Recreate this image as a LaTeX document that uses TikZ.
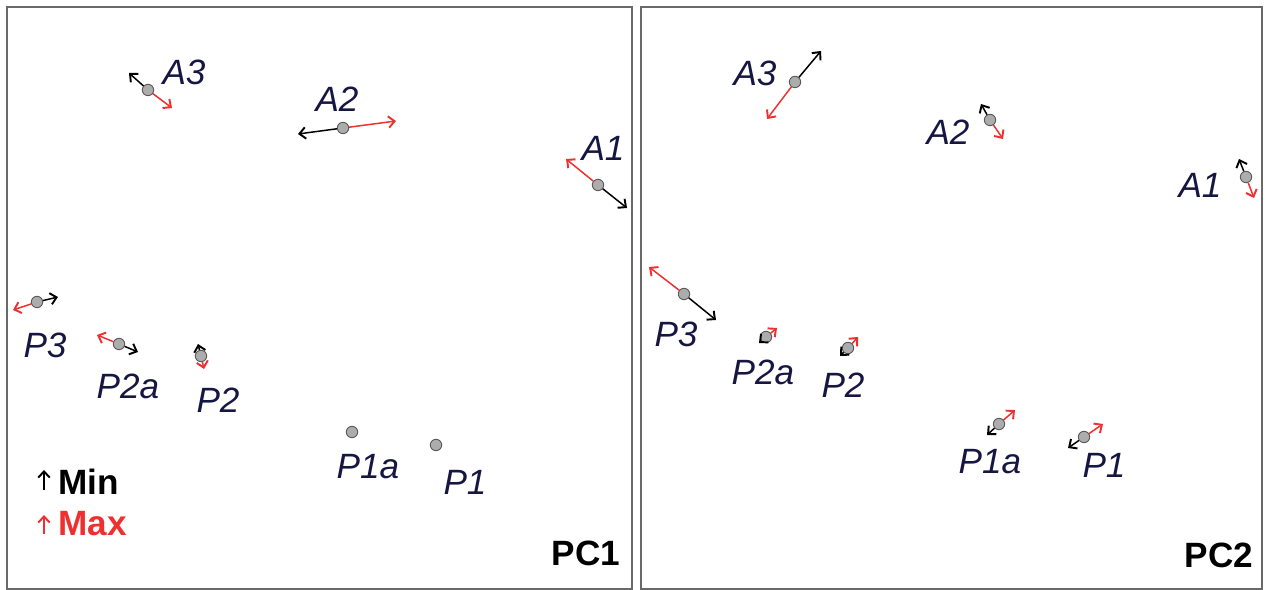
\documentclass[tikz,border=0pt]{standalone}
\usepackage{fontspec}
\setmainfont{Liberation Sans}
\usetikzlibrary{arrows.meta,positioning}

\definecolor{labelblue}{RGB}{22,22,66}
\definecolor{maxred}{RGB}{238,48,48}
\definecolor{framegray}{RGB}{105,105,105}
\definecolor{dotgray}{RGB}{172,172,172}

\tikzset{
  panel/.style={draw=framegray, line width=1.3pt},
  pt/.style={circle, draw=black!65, fill=dotgray, line width=0.5pt, inner sep=0pt, minimum size=6.5pt},
  minarr/.style={->, black, line width=0.85pt},
  maxarr/.style={->, maxred, line width=0.85pt},
  lbl/.style={text=labelblue, font=\fontsize{20}{24}\selectfont\itshape, inner sep=0pt},
  pclbl/.style={font=\fontsize{20}{24}\selectfont\bfseries, inner sep=0pt},
}

\begin{document}
\begin{tikzpicture}[x=0.02cm, y=-0.02cm, >={Straight Barb[length=3.5pt,width=6.5pt,line width=1.1pt]}]
    \useasboundingbox (0,0) rectangle (1265,590);

    % Panels
    \draw[panel] (7,7) rectangle (632,589);
    \draw[panel] (641,7) rectangle (1262,589);

    % PC1 points
    \node (la3) [pt] at (148,90) {};
    \node (la2) [pt] at (343,128) {};
    \node (la1) [pt] at (598,185) {};
    \node (lp3) [pt] at (37,302) {};
    \node (lp2a) [pt] at (119,344) {};
    \node (lp2) [pt] at (201,356) {};
    \node (lp1a) [pt] at (352,432) {};
    \node (lp1) [pt] at (436,445) {};

    % PC1 arrow ends
    \coordinate (la3min) at (129,73);
    \coordinate (la3max) at (172,108);
    \coordinate (la2min) at (298,134);
    \coordinate (la2max) at (396,121);
    \coordinate (la1min) at (627,208);
    \coordinate (la1max) at (566,159);
    \coordinate (lp3min) at (58,297);
    \coordinate (lp3max) at (13,310);
    \coordinate (lp2amin) at (138,352);
    \coordinate (lp2amax) at (97,335);
    \coordinate (lp2min) at (198,344);
    \coordinate (lp2max) at (204,369);

    % PC1 labels
    \node [lbl] at (184,72) {A3};
    \node [lbl] at (337,99) {A2};
    \node [lbl] at (603,148) {A1};
    \node [lbl] at (45,345) {P3};
    \node [lbl] at (128,386) {P2a};
    \node [lbl] at (218,400) {P2};
    \node [lbl] at (368,467) {P1a};
    \node [lbl] at (465,482) {P1};
    \node [pclbl] at (586,553) {PC1};

    % Legend
    \coordinate (minlo) at (44,490);
    \coordinate (minhi) at (44,470);
    \coordinate (maxlo) at (44,534);
    \coordinate (maxhi) at (44,515);
    \draw[minarr, line width=0.6pt] (minlo) -- (minhi);
    \draw[maxarr, line width=0.6pt] (maxlo) -- (maxhi);
    \node [pclbl, anchor=west] at (58,482) {Min};
    \node [pclbl, anchor=west, text=maxred] at (58,524) {Max};

    % PC2 points
    \node (ra3) [pt] at (795,82) {};
    \node (ra2) [pt] at (990,120) {};
    \node (ra1) [pt] at (1246,177) {};
    \node (rp3) [pt] at (684,294) {};
    \node (rp2a) [pt] at (766,337) {};
    \node (rp2) [pt] at (848,348) {};
    \node (rp1a) [pt] at (999,424) {};
    \node (rp1) [pt] at (1084,437) {};

    % PC2 arrow ends
    \coordinate (ra3min) at (821,51);
    \coordinate (ra3max) at (767,119);
    \coordinate (ra2min) at (981,104);
    \coordinate (ra2max) at (1003,139);
    \coordinate (ra1min) at (1239,159);
    \coordinate (ra1max) at (1254,198);
    \coordinate (rp3min) at (716,320);
    \coordinate (rp3max) at (649,267);
    \coordinate (rp2amin) at (759,343);
    \coordinate (rp2amax) at (777,328);
    \coordinate (rp2min) at (840,356);
    \coordinate (rp2max) at (858,337);
    \coordinate (rp1amin) at (987,435);
    \coordinate (rp1amax) at (1015,410);
    \coordinate (rp1min) at (1068,448);
    \coordinate (rp1max) at (1103,424);

    % PC2 labels
    \node [lbl] at (755,73) {A3};
    \node [lbl] at (948,132) {A2};
    \node [lbl] at (1200,185) {A1};
    \node [lbl] at (676,334) {P3};
    \node [lbl] at (763,372) {P2a};
    \node [lbl] at (843,385) {P2};
    \node [lbl] at (990,462) {P1a};
    \node [lbl] at (1104,465) {P1};
    \node [pclbl] at (1219,555) {PC2};

    % Arrows
    \draw[minarr] (la3) -- (la3min);
    \draw[maxarr] (la3) -- (la3max);
    \draw[minarr] (la2) -- (la2min);
    \draw[maxarr] (la2) -- (la2max);
    \draw[minarr] (la1) -- (la1min);
    \draw[maxarr] (la1) -- (la1max);
    \draw[minarr] (lp3) -- (lp3min);
    \draw[maxarr] (lp3) -- (lp3max);
    \draw[minarr] (lp2a) -- (lp2amin);
    \draw[maxarr] (lp2a) -- (lp2amax);
    \draw[minarr] (lp2) -- (lp2min);
    \draw[maxarr] (lp2) -- (lp2max);

    \draw[minarr] (ra3) -- (ra3min);
    \draw[maxarr] (ra3) -- (ra3max);
    \draw[minarr] (ra2) -- (ra2min);
    \draw[maxarr] (ra2) -- (ra2max);
    \draw[minarr] (ra1) -- (ra1min);
    \draw[maxarr] (ra1) -- (ra1max);
    \draw[minarr] (rp3) -- (rp3min);
    \draw[maxarr] (rp3) -- (rp3max);
    \draw[minarr] (rp2a) -- (rp2amin);
    \draw[maxarr] (rp2a) -- (rp2amax);
    \draw[minarr] (rp2) -- (rp2min);
    \draw[maxarr] (rp2) -- (rp2max);
    \draw[minarr] (rp1a) -- (rp1amin);
    \draw[maxarr] (rp1a) -- (rp1amax);
    \draw[minarr] (rp1) -- (rp1min);
    \draw[maxarr] (rp1) -- (rp1max);
\end{tikzpicture}
\end{document}
